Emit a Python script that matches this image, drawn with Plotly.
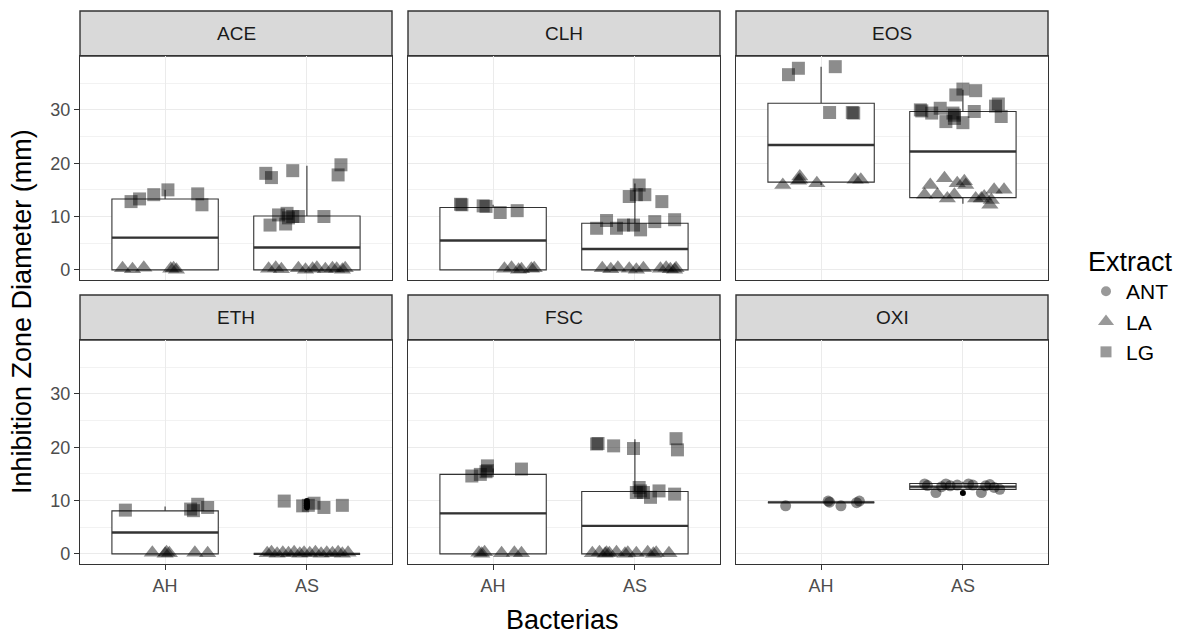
import plotly.graph_objects as go

# ---------------- data ----------------
facets = ["ACE", "CLH", "EOS", "ETH", "FSC", "OXI"]
bacterias = ["AH", "AS"]
extracts = ["ANT", "LA", "LG"]

# boxplot statistics per facet (order of `facets`)
q1_AH = [0, 0, 16.45, 0, 0, 9.65]
med_AH = [6.05, 5.5, 23.4, 4.0, 7.6, 9.65]
q3_AH = [13.3, 11.7, 31.25, 8.06, 14.9, 9.65]
lo_AH = [0, 0, 15.9, 0, 0, 9.65]
hi_AH = [15.0, 12.2, 38.1, 8.9, 16.0, 9.65]

q1_AS = [0, 0, 13.55, 0, 0, 12.1]
med_AS = [4.2, 3.9, 22.2, 0, 5.25, 12.6]
q3_AS = [10.1, 8.75, 29.7, 0, 11.7, 13.2]
lo_AS = [0, 0, 12.4, 0, 0, 11.9]
hi_AS = [19.5, 16.2, 33.75, 0, 21.5, 13.5]

# boxplot outliers (facet, bacteria, value)
out_facet = ["ETH", "ETH", "ETH", "ETH", "ETH", "OXI"]
out_bact = ["AS", "AS", "AS", "AS", "AS", "AS"]
out_value = [8.7, 9.0, 9.1, 9.5, 9.9, 11.4]

# jittered observations: values and horizontal jitter (category units)
ACE_AH_LA = [0.3, 0.1, 0.4, 0.2, 0.0, 0.3]
ACE_AH_LA_jit = [-0.30, -0.23, -0.15, 0.04, 0.08, 0.06]
ACE_AH_LG = [12.8, 13.3, 14.1, 15.0, 14.25, 12.2]
ACE_AH_LG_jit = [-0.24, -0.18, -0.08, 0.02, 0.23, 0.26]
ACE_AS_LA = [0.2, 0.4, 0.1, 0.3, 0.0, 0.2, 0.4, 0.1, 0.3, 0.2, 0.0, 0.3]
ACE_AS_LA_jit = [-0.27, -0.22, -0.18, -0.06, -0.01, 0.04, 0.07, 0.13, 0.18, 0.21, 0.25, 0.27]
ACE_AS_LG = [18.1, 17.3, 18.6, 19.7, 17.8, 8.4, 10.3, 10.6, 8.6, 10.0, 10.0, 10.0, 9.75]
ACE_AS_LG_jit = [-0.29, -0.25, -0.10, 0.24, 0.22, -0.26, -0.20, -0.14, -0.15, -0.10, -0.06, 0.12, -0.13]

CLH_AH_LA = [0.2, 0.4, 0.1, 0.3, 0.0, 0.2]
CLH_AH_LA_jit = [0.08, 0.13, 0.20, 0.29, 0.18, 0.27]
CLH_AH_LG = [12.2, 12.3, 11.9, 12.0, 10.75, 11.1]
CLH_AH_LG_jit = [-0.22, -0.23, -0.05, -0.07, 0.05, 0.17]
CLH_AS_LA = [0.3, 0.1, 0.4, 0.2, 0.0, 0.3, 0.2, 0.4, 0.1, 0.0, 0.3]
CLH_AS_LA_jit = [-0.23, -0.17, -0.12, -0.04, 0.01, 0.06, 0.18, 0.22, 0.25, 0.28, 0.29]
CLH_AS_LG = [15.9, 13.75, 14.1, 14.1, 12.8, 7.8, 9.25, 7.8, 8.4, 8.4, 7.5, 9.05, 9.4]
CLH_AS_LG_jit = [0.03, -0.04, 0.01, 0.07, 0.19, -0.27, -0.20, -0.13, -0.08, -0.01, 0.04, 0.14, 0.28]

EOS_AH_LA = [15.9, 17.5, 16.9, 16.7, 16.25, 16.9, 16.9]
EOS_AH_LA_jit = [-0.27, -0.15, -0.15, -0.16, -0.03, 0.24, 0.28]
EOS_AH_LG = [36.6, 37.8, 38.1, 29.5, 29.5, 29.4]
EOS_AH_LG_jit = [-0.23, -0.16, 0.10, 0.06, 0.22, 0.23]
EOS_AS_LA = [15.9, 17.2, 16.25, 16.6, 15.9, 14.1, 14.1, 13.4, 14.1, 13.4, 13.75, 13.1, 15.0, 15.0, 12.2, 13.4]
EOS_AS_LA_jit = [-0.23, -0.13, -0.04, 0.01, 0.02, -0.27, -0.18, -0.11, -0.06, 0.09, 0.15, 0.20, 0.22, 0.29, 0.19, 0.13]
EOS_AS_LG = [33.9, 32.8, 33.6, 30.0, 29.8, 29.4, 30.3, 27.8, 29.4, 29.0, 28.4, 27.6, 29.7, 31.1, 30.7, 28.75]
EOS_AS_LG_jit = [0.0, -0.05, 0.09, -0.30, -0.29, -0.22, -0.16, -0.12, -0.07, -0.06, -0.06, 0.0, 0.08, 0.25, 0.23, 0.27]

ETH_AH_LA = [0.2, 0.0, 0.3, 0.1, 0.2, 0.1]
ETH_AH_LA_jit = [-0.09, 0.0, 0.01, 0.03, 0.21, 0.30]
ETH_AH_LG = [8.2, 8.4, 9.3, 8.7, 8.1]
ETH_AH_LG_jit = [-0.28, 0.18, 0.23, 0.30, 0.20]
ETH_AS_LA = [0.1, 0.3, 0.0, 0.2, 0.1, 0.3, 0.0, 0.2, 0.1, 0.3, 0.0, 0.2, 0.1, 0.3, 0.0, 0.2]
ETH_AS_LA_jit = [-0.28, -0.25, -0.21, -0.17, -0.13, -0.09, -0.05, -0.02, 0.02, 0.06, 0.10, 0.14, 0.18, 0.22, 0.25, 0.29]
ETH_AS_LG = [9.9, 9.0, 9.1, 9.5, 8.7, 9.1]
ETH_AS_LG_jit = [-0.16, -0.03, 0.01, 0.05, 0.12, 0.25]

FSC_AH_LA = [0.2, 0.0, 0.3, 0.1, 0.2, 0.1]
FSC_AH_LA_jit = [-0.10, -0.08, -0.06, 0.06, 0.15, 0.20]
FSC_AH_LG = [14.6, 14.9, 16.5, 15.4, 15.6, 15.9]
FSC_AH_LG_jit = [-0.15, -0.09, -0.04, -0.05, -0.04, 0.20]
FSC_AS_LA = [0.1, 0.3, 0.0, 0.2, 0.1, 0.3, 0.0, 0.2, 0.1, 0.3, 0.0, 0.2, 0.1]
FSC_AS_LA_jit = [-0.30, -0.25, -0.21, -0.20, -0.18, -0.13, -0.07, -0.05, 0.01, 0.09, 0.13, 0.15, 0.24]
FSC_AS_LG = [20.6, 20.7, 20.25, 19.75, 21.6, 19.5, 12.45, 11.5, 11.8, 10.6, 11.8, 11.2, 11.5]
FSC_AS_LG_jit = [-0.27, -0.26, -0.15, -0.01, 0.29, 0.30, 0.03, 0.06, 0.04, 0.11, 0.17, 0.28, 0.01]

OXI_AH_ANT = [9.0, 9.9, 9.7, 9.0, 9.9, 9.6]
OXI_AH_ANT_jit = [-0.25, 0.05, 0.06, 0.14, 0.27, 0.25]
OXI_AS_ANT = [13.1, 11.5, 13.1, 12.75, 13.1, 11.5, 12.75, 12.45, 12.1, 12.8, 12.6, 12.9, 13.0, 12.9]
OXI_AS_ANT_jit = [-0.27, -0.19, -0.12, -0.09, 0.04, 0.13, 0.16, 0.22, 0.26, -0.25, -0.15, 0.07, 0.19, -0.04]

groups = [
    ("ACE", "AH", "LA", ACE_AH_LA, ACE_AH_LA_jit), ("ACE", "AH", "LG", ACE_AH_LG, ACE_AH_LG_jit),
    ("ACE", "AS", "LA", ACE_AS_LA, ACE_AS_LA_jit), ("ACE", "AS", "LG", ACE_AS_LG, ACE_AS_LG_jit),
    ("CLH", "AH", "LA", CLH_AH_LA, CLH_AH_LA_jit), ("CLH", "AH", "LG", CLH_AH_LG, CLH_AH_LG_jit),
    ("CLH", "AS", "LA", CLH_AS_LA, CLH_AS_LA_jit), ("CLH", "AS", "LG", CLH_AS_LG, CLH_AS_LG_jit),
    ("EOS", "AH", "LA", EOS_AH_LA, EOS_AH_LA_jit), ("EOS", "AH", "LG", EOS_AH_LG, EOS_AH_LG_jit),
    ("EOS", "AS", "LA", EOS_AS_LA, EOS_AS_LA_jit), ("EOS", "AS", "LG", EOS_AS_LG, EOS_AS_LG_jit),
    ("ETH", "AH", "LA", ETH_AH_LA, ETH_AH_LA_jit), ("ETH", "AH", "LG", ETH_AH_LG, ETH_AH_LG_jit),
    ("ETH", "AS", "LA", ETH_AS_LA, ETH_AS_LA_jit), ("ETH", "AS", "LG", ETH_AS_LG, ETH_AS_LG_jit),
    ("FSC", "AH", "LA", FSC_AH_LA, FSC_AH_LA_jit), ("FSC", "AH", "LG", FSC_AH_LG, FSC_AH_LG_jit),
    ("FSC", "AS", "LA", FSC_AS_LA, FSC_AS_LA_jit), ("FSC", "AS", "LG", FSC_AS_LG, FSC_AS_LG_jit),
    ("OXI", "AH", "ANT", OXI_AH_ANT, OXI_AH_ANT_jit), ("OXI", "AS", "ANT", OXI_AS_ANT, OXI_AS_ANT_jit),
]

# ---------------- styling ----------------
FONT = "Liberation Sans, Arial, sans-serif"
symbols = {"ANT": "circle", "LA": "triangle-up", "LG": "square"}
sizes = {"ANT": 11, "LA": 15, "LG": 13}
PT_COLOR = "rgba(0,0,0,0.45)"
DARK = "#333333"

W, H = 1180, 634
ML, MR, MT, MB = 80, 132, 11, 70
PW, PH = W - ML - MR, H - MT - MB

def px_x(p):
    return (p - ML) / PW

def px_y(p):
    return (H - MB - p) / PH

col_px = [(80, 392), (408, 720), (736, 1048)]
row_panel_px = [(56, 280), (340, 564)]
row_strip_px = [(11, 56), (295, 340)]

box_stats = {
    "AH": (q1_AH, med_AH, q3_AH, lo_AH, hi_AH),
    "AS": (q1_AS, med_AS, q3_AS, lo_AS, hi_AS),
}

fig = go.Figure()
layout_axes = {}
shapes = []
annotations = []

for i, fac in enumerate(facets):
    r, c = divmod(i, 3)
    ax = "" if i == 0 else str(i + 1)
    xa, ya = "x" + ax, "y" + ax
    x0, x1 = col_px[c]
    yt, yb = row_panel_px[r]
    bottom_row = (r == 1)
    left_col = (c == 0)
    layout_axes["xaxis" + ax] = dict(
        domain=[px_x(x0), px_x(x1)], range=[0.4, 2.6], anchor=ya,
        tickvals=[1, 2], ticktext=bacterias, showticklabels=bottom_row,
        ticks="outside" if bottom_row else "", ticklen=5, tickcolor=DARK, tickwidth=1.1,
        tickfont=dict(family=FONT, size=18, color="#4D4D4D"),
        showgrid=True, gridcolor="#EBEBEB", gridwidth=1.2, zeroline=False,
        showline=True, mirror=True, linecolor=DARK, linewidth=1.4,
    )
    layout_axes["yaxis" + ax] = dict(
        domain=[px_y(yb), px_y(yt)], range=[-1.9, 40.1], anchor=xa,
        tickvals=[0, 10, 20, 30], showticklabels=left_col,
        ticks="outside" if left_col else "", ticklen=5, tickcolor=DARK, tickwidth=1.1,
        tickfont=dict(family=FONT, size=18, color="#4D4D4D"),
        showgrid=True, gridcolor="#EBEBEB", gridwidth=1.2, zeroline=False,
        minor=dict(tickvals=[5, 15, 25, 35], showgrid=True, gridcolor="#F2F2F2", gridwidth=0.7, ticks=""),
        showline=True, mirror=True, linecolor=DARK, linewidth=1.4,
    )
    st, sb = row_strip_px[r]
    shapes.append(dict(type="rect", xref="paper", yref="paper",
                       x0=px_x(x0), x1=px_x(x1), y0=px_y(sb), y1=px_y(st),
                       fillcolor="#D9D9D9", line=dict(color=DARK, width=1.4), layer="below"))
    annotations.append(dict(text=fac, xref="paper", yref="paper",
                            x=(px_x(x0) + px_x(x1)) / 2, y=(px_y(sb) + px_y(st)) / 2,
                            showarrow=False, xanchor="center", yanchor="middle",
                            font=dict(family=FONT, size=19, color="#1A1A1A")))

    # boxplots
    for bi, b in enumerate(bacterias):
        q1, med, q3, lo, hi = (s[i] for s in box_stats[b])
        fig.add_trace(go.Box(
            x=[bi + 1], q1=[q1], median=[med], q3=[q3], lowerfence=[lo], upperfence=[hi],
            width=0.75, whiskerwidth=0, fillcolor="white", boxpoints=False,
            line=dict(color=DARK, width=1.1), xaxis=xa, yaxis=ya,
            showlegend=False, hoverinfo="skip"))
        fig.add_trace(go.Scatter(
            x=[bi + 1 - 0.375, bi + 1 + 0.375], y=[med, med], mode="lines",
            line=dict(color=DARK, width=2.4), xaxis=xa, yaxis=ya,
            showlegend=False, hoverinfo="skip"))
        ox = [bi + 1 for f, bb, v in zip(out_facet, out_bact, out_value) if f == fac and bb == b]
        oy = [v for f, bb, v in zip(out_facet, out_bact, out_value) if f == fac and bb == b]
        if oy:
            fig.add_trace(go.Scatter(
                x=ox, y=oy, mode="markers", marker=dict(color="black", size=6, symbol="circle"),
                xaxis=xa, yaxis=ya, showlegend=False, hoverinfo="skip"))

    # jittered points
    for ext in extracts:
        xs, ys = [], []
        for f, b, e, vals, jit in groups:
            if f == fac and e == ext:
                bi = bacterias.index(b)
                xs += [bi + 1 + j for j in jit]
                ys += list(vals)
        if ys:
            fig.add_trace(go.Scatter(
                x=xs, y=ys, mode="markers",
                marker=dict(symbol=symbols[ext], size=sizes[ext], color=PT_COLOR, line=dict(width=0)),
                xaxis=xa, yaxis=ya, showlegend=False, legendgroup=ext, hoverinfo="skip"))

# legend entries
legend_sizes = {"ANT": 10, "LA": 14, "LG": 11}
for ext in extracts:
    fig.add_trace(go.Scatter(
        x=[None], y=[None], mode="markers", name=ext, legendgroup=ext,
        marker=dict(symbol=symbols[ext], size=legend_sizes[ext], color="rgba(0,0,0,0.4)", line=dict(width=0)),
        showlegend=True))

annotations.append(dict(text="Inhibition Zone Diameter (mm)", xref="paper", yref="paper",
                        x=px_x(22), y=px_y(312), textangle=-90, showarrow=False,
                        xanchor="center", yanchor="middle",
                        font=dict(family=FONT, size=27, color="black")))
annotations.append(dict(text="Bacterias", xref="paper", yref="paper",
                        x=px_x(562), y=px_y(620), showarrow=False,
                        xanchor="center", yanchor="middle",
                        font=dict(family=FONT, size=27, color="black")))

fig.update_layout(
    width=W, height=H, autosize=False,
    margin=dict(l=ML, r=MR, t=MT, b=MB, autoexpand=False),
    paper_bgcolor="white", plot_bgcolor="white",
    shapes=shapes, annotations=annotations,
    legend=dict(title=dict(text="Extract", font=dict(family=FONT, size=27, color="black")),
                font=dict(family=FONT, size=21, color="black"),
                x=px_x(1086), y=px_y(236), xanchor="left", yanchor="top",
                bgcolor="rgba(0,0,0,0)", itemsizing="trace", tracegroupgap=0),
    hovermode=False,
    **layout_axes,
)

fig.write_html("out.html")
